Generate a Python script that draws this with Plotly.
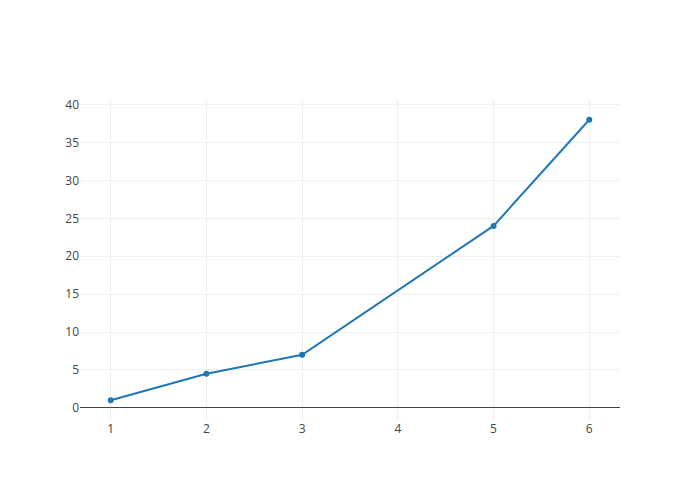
import plotly.graph_objects as go

x_values = [1, 2, 3, 5, 6]
y_values = [1, 4.5, 7, 24, 38]

fig = go.Figure(go.Scatter(x=x_values, y=y_values, mode="lines+markers",
                           line=dict(color="#1f77b4", width=2),
                           marker=dict(color="#1f77b4", size=6)))
fig.update_layout(
    template="none",
    width=700, height=500,
    margin=dict(l=72, r=88, t=92, b=88),
    paper_bgcolor="white", plot_bgcolor="white",
    font=dict(family="Open Sans", size=12, color="#444"),
    showlegend=False,
)
fig.update_xaxes(showgrid=True, gridcolor="#eee", zeroline=False, showline=False, ticks="",
                 tickvals=[1, 2, 3, 4, 5, 6])
fig.update_yaxes(showgrid=True, gridcolor="#eee", zeroline=True, zerolinecolor="#444",
                 zerolinewidth=1, showline=False, ticks="", dtick=5)
fig.write_html("out.html")
